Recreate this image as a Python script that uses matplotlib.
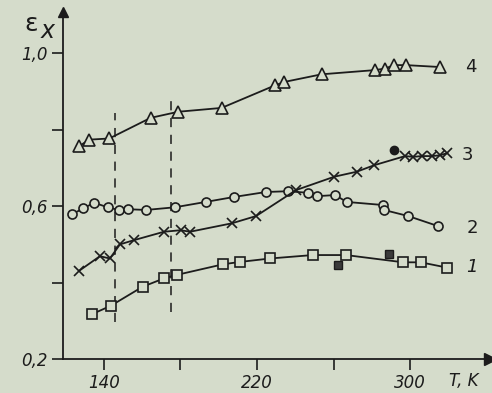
import matplotlib
matplotlib.use("Agg")
import matplotlib.pyplot as plt

BG = "#d5dccb"
INK = "#1c1c1c"

plt.rcParams.update({
    "font.family": "DejaVu Sans",
    "axes.linewidth": 1.3,
})

# curve 1 (open squares) and two filled squares
t1 = [133.6, 143.5, 160.2, 171.4, 178.0, 202.4, 211.1, 226.8, 249.1, 266.5, 296.5, 305.6, 319.5]
e1 = [0.317, 0.339, 0.389, 0.411, 0.420, 0.448, 0.454, 0.463, 0.472, 0.472, 0.453, 0.453, 0.439]
t1_filled = [262.1, 289.2]
e1_filled = [0.446, 0.476]

# curve 2 (circles)
t2 = [123.4, 129.2, 134.9, 141.9, 147.8, 152.4, 162.0, 177.1, 193.2, 208.0, 224.7, 236.0,
      246.5, 251.2, 260.8, 266.9, 285.7, 286.4, 299.1, 314.5]
e2 = [0.579, 0.594, 0.609, 0.597, 0.590, 0.592, 0.590, 0.597, 0.611, 0.624, 0.637, 0.639,
      0.635, 0.626, 0.629, 0.611, 0.603, 0.590, 0.574, 0.548]

# curve 3 (crosses) and one filled dot
t3 = [127.1, 137.9, 143.1, 148.4, 155.7, 171.4, 180.1, 185.0, 206.8, 219.5, 240.4, 260.4,
      272.1, 281.2, 297.4, 301.7, 306.1, 311.3, 315.7, 319.5]
e3 = [0.431, 0.469, 0.463, 0.500, 0.511, 0.533, 0.537, 0.533, 0.555, 0.574, 0.642, 0.677,
      0.690, 0.707, 0.731, 0.729, 0.731, 0.731, 0.733, 0.739]
t3_filled = [291.6]
e3_filled = [0.746]

# curve 4 (triangles)
t4 = [127.1, 132.3, 142.8, 164.4, 178.9, 201.5, 229.4, 234.3, 253.8, 281.7, 286.9, 291.6,
      297.9, 315.7]
e4 = [0.757, 0.774, 0.777, 0.831, 0.847, 0.857, 0.916, 0.925, 0.945, 0.956, 0.960, 0.969,
      0.969, 0.964]

curve_labels = ["1", "2", "3", "4"]
label_t = [329.3, 329.6, 327.0, 329.0]
label_e = [0.441, 0.543, 0.733, 0.965]

# dashed guide lines: (T, bottom, top)
guide_t = [145.8, 175.0]
guide_lo = [0.297, 0.323]
guide_hi = [0.843, 0.880]

xticks = [140, 180, 220, 260, 300]
xticklabels = ["140", "", "220", "", "300"]
yticks = [0.2, 0.4, 0.6, 0.8, 1.0]
yticklabels = ["0,2", "", "0,6", "", "1,0"]

fig = plt.figure(figsize=(4.92, 3.93), dpi=100, facecolor=BG)
ax = fig.add_axes([0.128, 0.0865, 0.868, 0.882], facecolor=BG)

line_kw = dict(color=INK, lw=1.3, mfc=BG, mec=INK, mew=1.2, zorder=3)
ax.plot(t1, e1, marker="s", ms=7.5, **line_kw)
ax.plot(t2, e2, marker="o", ms=6.5, **line_kw)
ax.plot(t3, e3, marker="x", ms=7, **line_kw)
ax.plot(t4, e4, marker="^", ms=9, **line_kw)
ax.plot(t1_filled, e1_filled, ls="none", marker="s", ms=6, mfc="#3a3a3a", mec=INK, zorder=4)
ax.plot(t3_filled, e3_filled, ls="none", marker="o", ms=6, mfc=INK, mec=INK, zorder=4)

for t, lo, hi in zip(guide_t, guide_lo, guide_hi):
    ax.plot([t, t], [lo, hi], color=INK, lw=1.1, ls=(0, (6, 5)), zorder=2)

for lab, t, e in zip(curve_labels, label_t, label_e):
    ax.text(t, e, lab, fontsize=13, color=INK, va="center", ha="left",
            style="italic" if lab == "1" else "normal")

ax.set_xlim(118.6, 341.8)
ax.set_ylim(0.2, 1.107)
ax.spines["top"].set_visible(False)
ax.spines["right"].set_visible(False)
ax.spines["left"].set_color(INK)
ax.spines["bottom"].set_color(INK)

ax.set_xticks(xticks)
ax.set_xticklabels(xticklabels, fontsize=12, style="italic", color=INK)
ax.set_yticks(yticks)
ax.set_yticklabels(yticklabels, fontsize=12, style="italic", color=INK)
ax.tick_params(axis="both", direction="out", length=8, width=1.2, color=INK, pad=3)

# axis arrows
ax.plot(1, 0, ">", transform=ax.transAxes, color=INK, ms=8, clip_on=False, zorder=5)
ax.plot(0, 1, "^", transform=ax.transAxes, color=INK, ms=7, clip_on=False, zorder=5)

fig.text(0.05, 0.94, "ε", fontsize=18, color=INK, ha="left", va="center")
fig.text(0.083, 0.922, "x", fontsize=17, color=INK, ha="left", va="center", style="italic")
fig.text(0.912, 0.03, "T, K", fontsize=12, color=INK, ha="left", va="center", style="italic")

fig.savefig("out.png", dpi=100, facecolor=BG)
